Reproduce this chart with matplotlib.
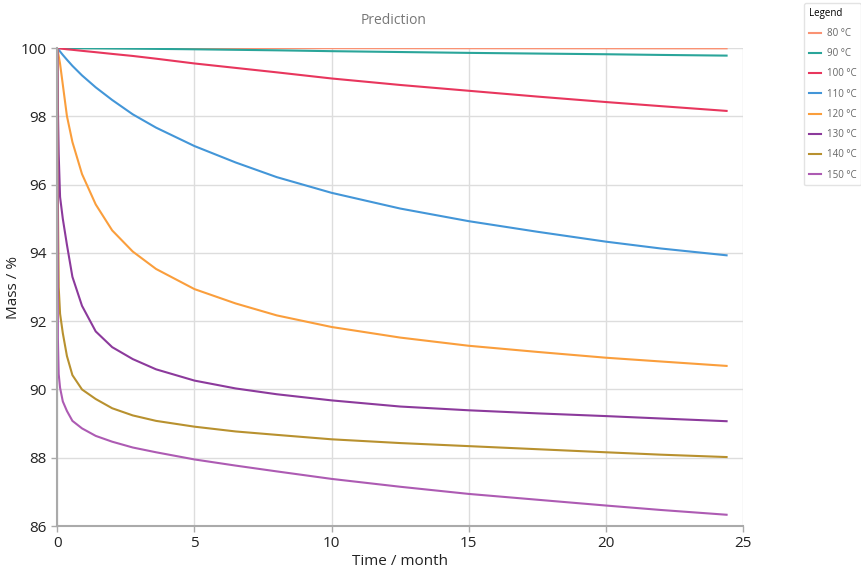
import matplotlib.pyplot as plt

plt.rcParams['font.family'] = ['Open Sans', 'DejaVu Sans']

# time in months
time = [0, 0.02, 0.05, 0.1, 0.2, 0.35, 0.55, 0.9, 1.4, 2, 2.75, 3.6, 5, 6.5, 8, 10,
        12.5, 15, 17.5, 20, 22, 24.4]

mass_80 = [100, 100, 100, 100, 100, 100, 100, 100, 100, 100, 100, 100, 100, 100, 100,
           99.999, 99.998, 99.997, 99.996, 99.995, 99.994, 99.993]
mass_90 = [100, 100, 100, 100, 99.999, 99.998, 99.997, 99.995, 99.992, 99.988, 99.983,
           99.977, 99.965, 99.95, 99.935, 99.91, 99.885, 99.86, 99.84, 99.82, 99.80, 99.78]
mass_100 = [100, 99.998, 99.996, 99.99, 99.98, 99.965, 99.95, 99.92, 99.88, 99.83, 99.77,
            99.69, 99.55, 99.42, 99.29, 99.11, 98.92, 98.75, 98.58, 98.42, 98.30, 98.16]
mass_110 = [100, 99.98, 99.95, 99.9, 99.8, 99.66, 99.48, 99.2, 98.85, 98.48, 98.06,
            97.67, 97.13, 96.65, 96.22, 95.76, 95.3, 94.93, 94.62, 94.33, 94.13, 93.93]
mass_120 = [100, 99.91, 99.77, 99.54, 98.93, 98.01, 97.25, 96.31, 95.42, 94.66, 94.04,
            93.53, 92.94, 92.52, 92.17, 91.83, 91.52, 91.28, 91.1, 90.93, 90.82, 90.69]
mass_130 = [100, 98.3, 96.9, 95.64, 95.0, 94.24, 93.3, 92.45, 91.7, 91.24, 90.89,
            90.59, 90.26, 90.03, 89.86, 89.68, 89.5, 89.39, 89.3, 89.22, 89.15, 89.07]
mass_140 = [100, 95.5, 93.0, 92.22, 91.65, 90.98, 90.42, 90.0, 89.72, 89.45, 89.24,
            89.08, 88.91, 88.77, 88.67, 88.54, 88.43, 88.34, 88.25, 88.16, 88.09, 88.02]
mass_150 = [100, 91.5, 90.45, 90.05, 89.65, 89.37, 89.08, 88.86, 88.64, 88.47, 88.3,
            88.16, 87.95, 87.77, 87.6, 87.38, 87.15, 86.94, 86.77, 86.60, 86.47, 86.33]

labels = ['80 °C', '90 °C', '100 °C', '110 °C', '120 °C', '130 °C', '140 °C', '150 °C']
series = [mass_80, mass_90, mass_100, mass_110, mass_120, mass_130, mass_140, mass_150]
colors = ['#FA9273', '#2AA59A', '#E8365D', '#4396D8', '#FA9E3C', '#8C3A9C', '#B8912F', '#AD5BB3']

fig = plt.figure(figsize=(8.62, 5.74), dpi=100)
ax = fig.add_axes([0.0665, 0.0836, 0.7955, 0.8326])

for vals, lab, col in zip(series, labels, colors):
    ax.plot(time, vals, color=col, lw=1.5, label=lab)

ax.set_xlim(0, 25)
ax.set_ylim(86, 100)
ax.set_xticks([0, 5, 10, 15, 20, 25])
ax.set_yticks([86, 88, 90, 92, 94, 96, 98, 100])
ax.grid(True, color='#dddddd', lw=1)
ax.set_axisbelow(True)
for s in ['top', 'right']:
    ax.spines[s].set_visible(False)
for s in ['left', 'bottom']:
    ax.spines[s].set_color('#aaaaaa')
    ax.spines[s].set_linewidth(1.5)
ax.tick_params(colors='#aaaaaa', labelcolor='#222222', labelsize=11, length=4, width=1)

ax.set_xlabel('Time / month', fontsize=11, color='#222222', labelpad=2)
ax.set_ylabel('Mass / %', fontsize=11, color='#222222', labelpad=0)
fig.text(0.456, 0.965, 'Prediction', ha='center', va='center', fontsize=10, color='#777777')

leg = fig.legend(loc='upper left', bbox_to_anchor=(0.933, 0.995), title='Legend',
                 fontsize=7, title_fontsize=7, handlelength=1.2, handletextpad=0.6,
                 labelspacing=0.95, frameon=True, fancybox=True, edgecolor='#dddddd',
                 borderpad=0.5, borderaxespad=0, alignment='left')
for t in leg.get_texts():
    t.set_color('#666666')

plt.savefig('out.png')
